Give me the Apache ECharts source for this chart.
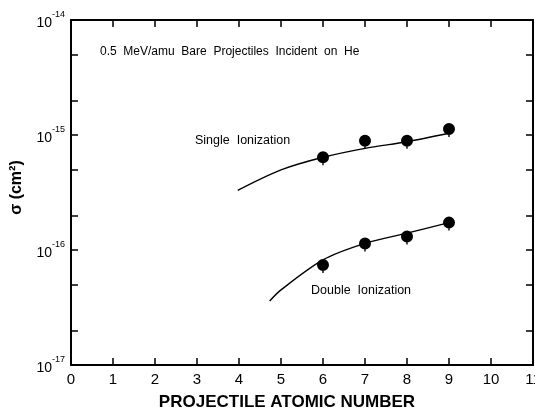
<!DOCTYPE html>
<html>
<head>
<meta charset="utf-8">
<script src="https://cdn.jsdelivr.net/npm/echarts@6/dist/echarts.min.js"></script>
<style>html,body{margin:0;padding:0;background:#fff}#c{width:535px;height:412px}</style>
</head>
<body>
<div id="c"></div>
<script>
// Data
const xTicks = [0,1,2,3,4,5,6,7,8,9,10,11];
const yDecades = [1e-17, 1e-16, 1e-15, 1e-14];
const yMinorTicks = [1e-17,2e-17,5e-17,1e-16,2e-16,5e-16,1e-15,2e-15,5e-15,1e-14];

const singleZ = [6, 7, 8, 9];
const singleVals = [6.4e-16, 8.9e-16, 8.9e-16, 1.13e-15];
const singleCurveZ = [3.97, 5, 6, 7, 8, 9];
const singleCurveVals = [3.3e-16, 4.97e-16, 6.4e-16, 7.66e-16, 8.74e-16, 1.035e-15];

const doubleZ = [6, 7, 8, 9];
const doubleVals = [7.4e-17, 1.14e-16, 1.31e-16, 1.73e-16];
const doubleCurveZ = [4.73, 5, 6, 7, 8, 9];
const doubleCurveVals = [3.6e-17, 4.5e-17, 8.2e-17, 1.14e-16, 1.4e-16, 1.73e-16];

const zip = (a, b) => a.map((v, i) => [v, b[i]]);
const FONT = 'Liberation Sans';
const PIN = 'path://M0,6A6,6,0,1,1,12,6A6,6,0,1,1,0,6ZM5.3,11L6.7,11L6.7,14L5.3,14Z';

const chart = echarts.init(document.getElementById('c'), null, {renderer: 'canvas'});
const yLabelFmt = v => {
  const e = Math.round(Math.log10(v));
  return '{b|10}{s|' + e + '}';
};
const tickStyle = {show: true, inside: true, length: 7, lineStyle: {color: '#000', width: 1.5}};
const lineAx = {show: true, onZero: false, lineStyle: {color: '#000', width: 2}};
chart.setOption({
  animation: false,
  backgroundColor: '#fff',
  grid: {left: 71, right: 2, top: 20, bottom: 47, containLabel: false, outerBoundsMode: 'none'},
  xAxis: [{
    type: 'value', min: 0, max: 11, interval: 1, position: 'bottom',
    axisLine: lineAx, axisTick: tickStyle, splitLine: {show: false},
    axisLabel: {color: '#000', fontFamily: FONT, fontSize: 15, margin: 7, showMaxLabel: true},
    name: 'PROJECTILE ATOMIC NUMBER', nameLocation: 'middle', nameGap: 29,
    nameTextStyle: {color: '#000', fontFamily: FONT, fontSize: 17, fontWeight: 'bold', padding: [0, 30, 0, 0]}
  }, {
    type: 'value', min: 0, max: 11, interval: 1, position: 'top',
    axisLine: lineAx, axisTick: tickStyle, splitLine: {show: false}, axisLabel: {show: false}
  }],
  yAxis: [{
    type: 'log', logBase: 10, min: 1e-17, max: 1e-14, position: 'left',
    axisLine: lineAx, splitLine: {show: false},
    axisTick: Object.assign({customValues: yMinorTicks}, tickStyle),
    axisLabel: {
      formatter: yLabelFmt, customValues: yDecades, margin: 6,
      rich: {
        b: {color: '#000', fontFamily: FONT, fontSize: 14, padding: [6, 0, 0, 0]},
        s: {color: '#000', fontFamily: FONT, fontSize: 9, verticalAlign: 'top', padding: [0, 0, 8, 0]}
      }
    },
    name: 'σ (cm²)', nameLocation: 'middle', nameGap: 46, nameRotate: 90,
    nameTextStyle: {color: '#000', fontFamily: FONT, fontSize: 16, fontWeight: 'bold', padding: [0, 0, 0, 10]}
  }, {
    type: 'log', logBase: 10, min: 1e-17, max: 1e-14, position: 'right',
    axisLine: lineAx, splitLine: {show: false},
    axisTick: Object.assign({customValues: yMinorTicks}, tickStyle),
    axisLabel: {show: false}
  }],
  graphic: [
    {type: 'text', left: 100, top: 46, style: {text: '0.5  MeV/amu  Bare  Projectiles  Incident  on  He', fill: '#000', font: '12px "' + FONT + '"'}},
    {type: 'text', left: 195, top: 134, style: {text: 'Single  Ionization', fill: '#000', font: '12.5px "' + FONT + '"'}},
    {type: 'text', left: 311, top: 284, style: {text: 'Double  Ionization', fill: '#000', font: '12.5px "' + FONT + '"'}}
  ],
  series: [
    {type: 'line', name: 'Single curve', data: zip(singleCurveZ, singleCurveVals), smooth: 0.3, showSymbol: false,
     lineStyle: {color: '#000', width: 1.4}},
    {type: 'line', name: 'Double curve', data: zip(doubleCurveZ, doubleCurveVals), smooth: 0.3, showSymbol: false,
     lineStyle: {color: '#000', width: 1.4}},
    {type: 'scatter', name: 'Single', data: zip(singleZ, singleVals), symbol: PIN, symbolSize: [12, 14], symbolOffset: [0, 1],
     itemStyle: {color: '#000', opacity: 1}},
    {type: 'scatter', name: 'Double', data: zip(doubleZ, doubleVals), symbol: PIN, symbolSize: [12, 14], symbolOffset: [0, 1],
     itemStyle: {color: '#000', opacity: 1}}
  ]
});
</script>
</body>
</html>
